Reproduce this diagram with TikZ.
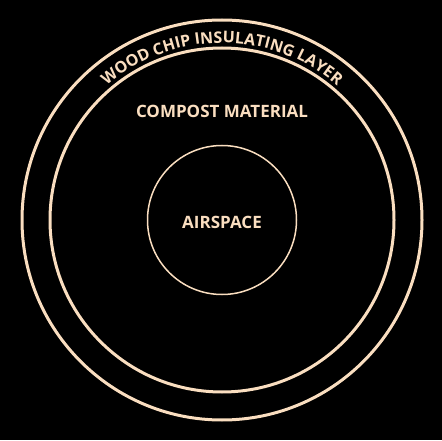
\documentclass[tikz,border=0pt]{standalone}
\usepackage{fontspec}
\setmainfont{Open Sans}
\usetikzlibrary{decorations.text}
\definecolor{cream}{RGB}{250,222,192}
\tikzset{
  ring/.style={draw=cream,line width=#1},
  label/.style={text=cream,font=\bfseries\fontsize{17}{17}\selectfont}
}

\begin{document}
\begin{tikzpicture}[x=1pt,y=1pt]
    \fill[black] (0,0) rectangle (442,440);
    \useasboundingbox (0,0) rectangle (442,440);
    \coordinate (O) at (222,220);

    \draw [ring=3pt] (O) circle [radius=200];
    \draw [ring=3pt] (O) circle [radius=172];
    \draw [ring=1.5pt] (O) circle [radius=74.5];

    \node [label] (air) at (222,218) {AIRSPACE};
    \node [label] (compost) at (222,329) {COMPOST MATERIAL};

    \path [decorate, decoration={text along path, text align=center,
        text color=cream, text={|\bfseries\fontsize{16}{16}\selectfont|WOOD CHIP INSULATING LAYER}}]
        (O) ++(135:177) arc [start angle=135, end angle=45, radius=177];
  \end{tikzpicture}
\end{document}
